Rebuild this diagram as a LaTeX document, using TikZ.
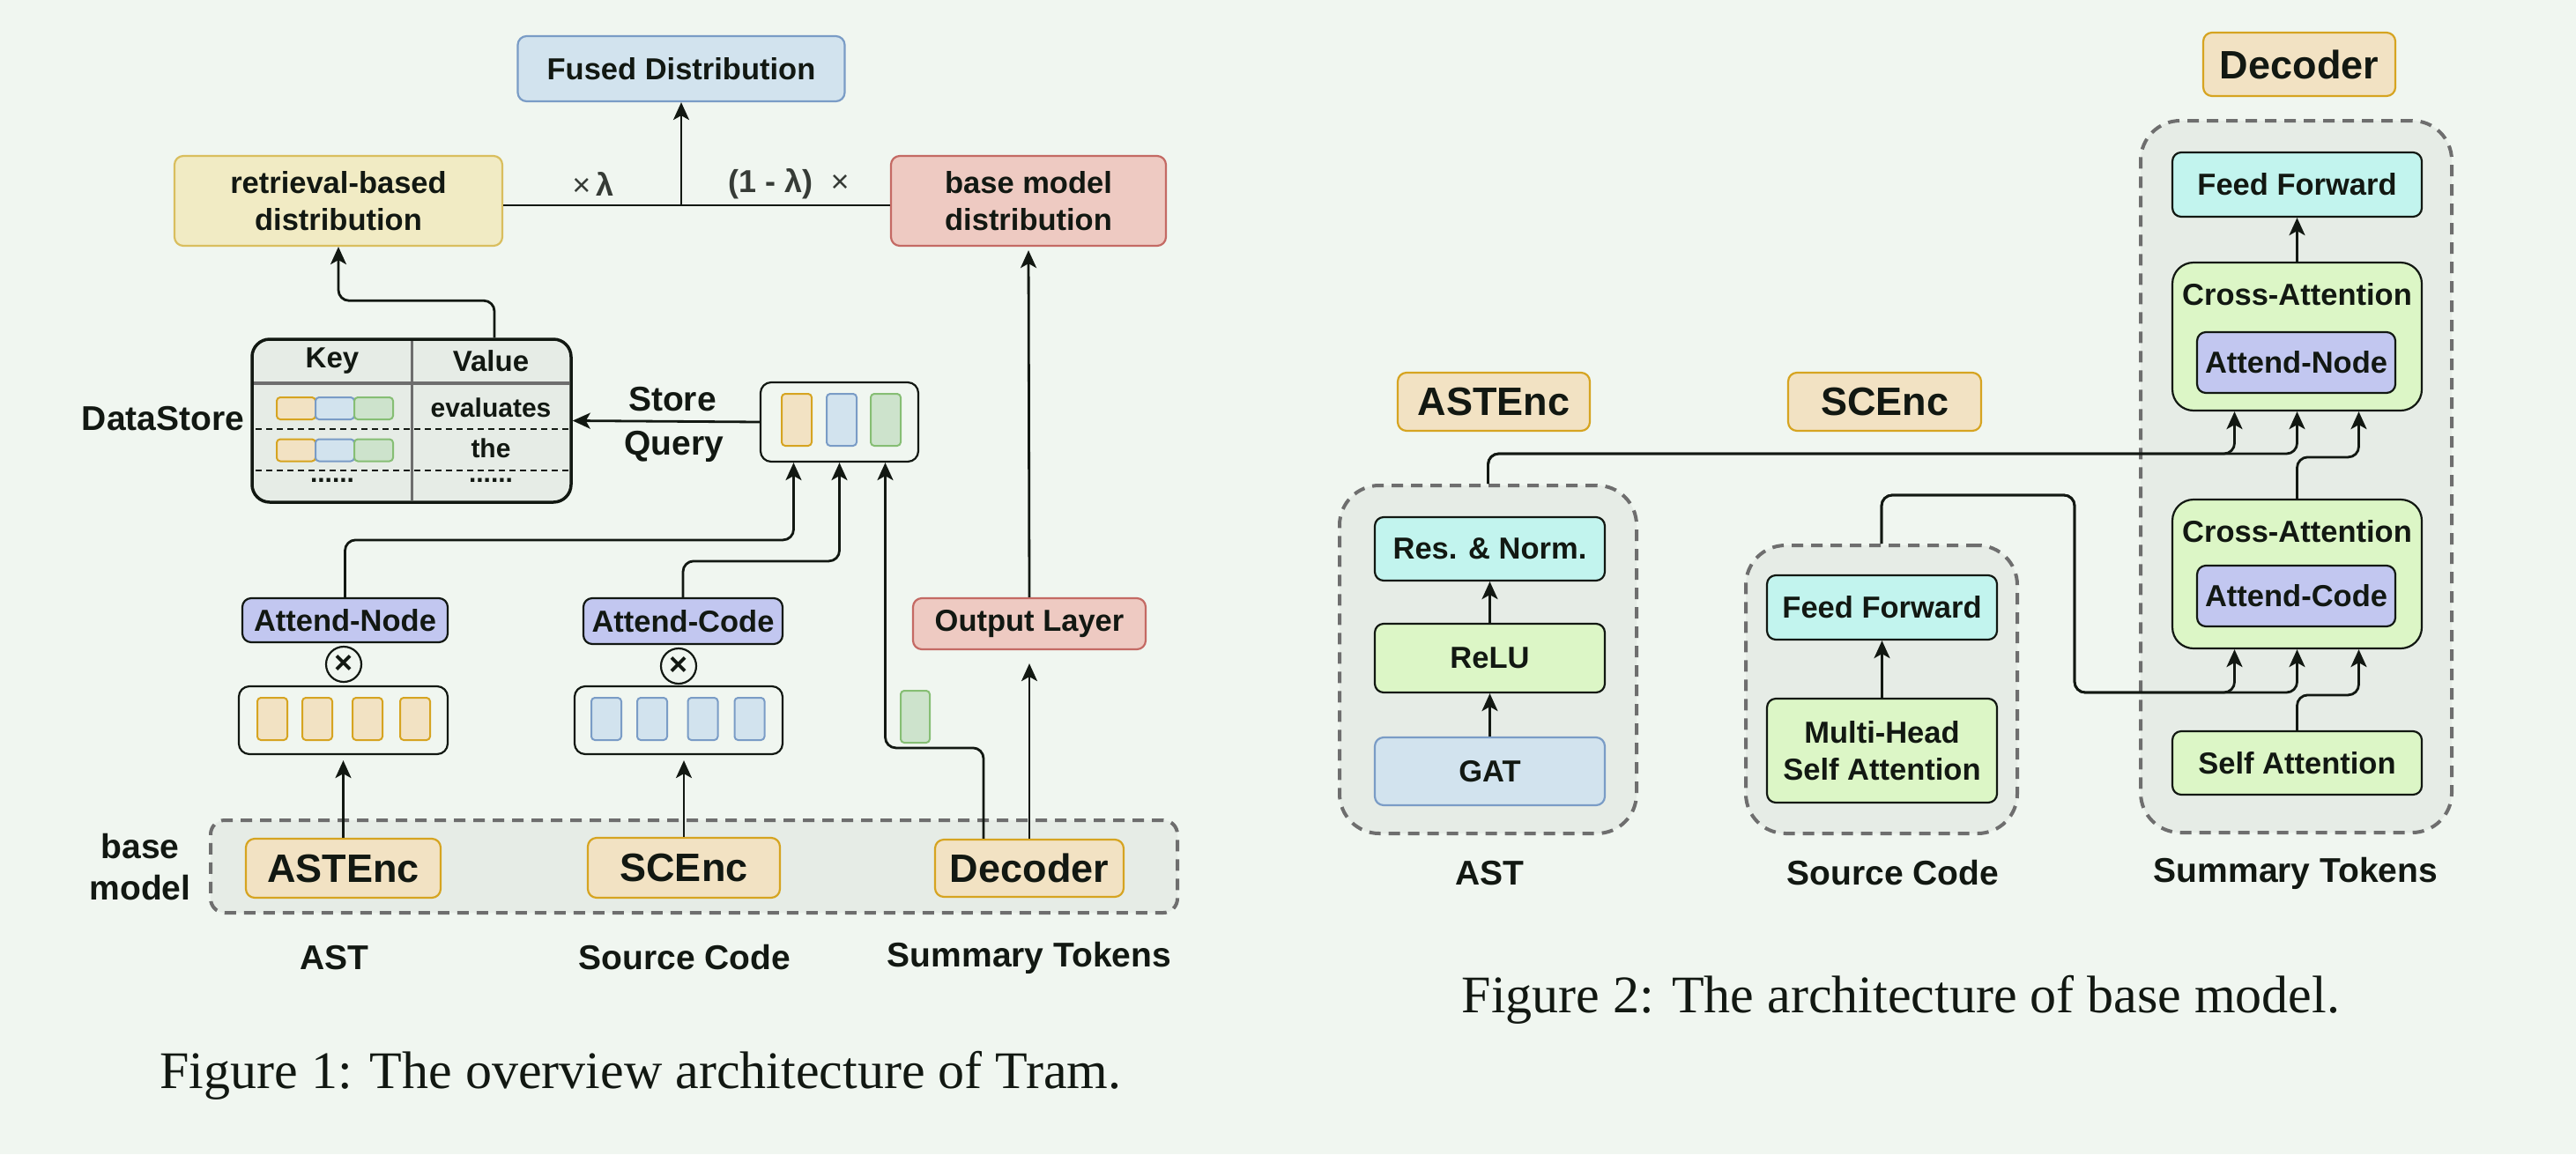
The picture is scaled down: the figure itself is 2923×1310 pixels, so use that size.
\documentclass[tikz,border=0pt]{standalone}
\usepackage{fontspec}
\setmainfont{Liberation Sans}
\newfontfamily\captionfont{Liberation Serif}
\usetikzlibrary{arrows.meta}

\definecolor{bgcol}{HTML}{F0F6F0}
\definecolor{grpfill}{HTML}{E6ECE6}
\definecolor{grpline}{HTML}{6E6E6E}
\definecolor{ink}{HTML}{121812}
\definecolor{bluefill}{HTML}{D2E3EE}
\definecolor{blueline}{HTML}{7A9CC6}
\definecolor{yellowfill}{HTML}{F1EBC4}
\definecolor{yellowline}{HTML}{D9BE5E}
\definecolor{redfill}{HTML}{EECAC2}
\definecolor{redline}{HTML}{C46A64}
\definecolor{orangefill}{HTML}{F2E2C3}
\definecolor{orangeline}{HTML}{D6A421}
\definecolor{purplefill}{HTML}{C2C7F0}
\definecolor{cyanfill}{HTML}{C2F4EE}
\definecolor{limefill}{HTML}{DCF6C6}
\definecolor{greenfill}{HTML}{CDE3CC}
\definecolor{greenline}{HTML}{86BE74}

\newcommand{\boxfont}{\bfseries\fontsize{34.5}{42}\selectfont}
\newcommand{\labelfont}{\bfseries\fontsize{39}{47}\selectfont}
\newcommand{\titlefont}{\bfseries\fontsize{45}{52}\selectfont}
\newcommand{\cellfont}{\bfseries\fontsize{30}{36}\selectfont}

\begin{document}
\begin{tikzpicture}[x=1pt, y=-1pt, line join=round,
    box/.style={draw=ink, line width=2.2pt, rounded corners=10pt, text=ink, font=\boxfont, inner sep=0pt, align=center},
    grpbox/.style={draw=grpline, fill=grpfill, line width=4pt, dash pattern=on 13pt off 9pt, rounded corners=45pt, inner sep=0pt},
    vecbar/.style={line width=2pt, rounded corners=4pt, inner sep=0pt, minimum width=34pt},
    xnode/.style={circle, draw=ink, line width=2.2pt, minimum size=40pt, inner sep=0pt, text=ink, font=\bfseries\fontsize{36}{36}\selectfont},
    lbl/.style={text=ink, font=\labelfont, inner sep=0pt, align=center},
    conn/.style={draw=ink, line width=2.8pt, rounded corners=12pt},
    arr/.style={conn, -{Stealth[length=20pt, width=18pt, inset=5pt]}}]

\fill[bgcol] (0,0) rectangle (2923,1310);

% Figure 1: overview
\node[grpbox, rounded corners=16pt, minimum width=1097pt, minimum height=105pt] (basegrp) at (787.5,983.5) {};

\node[box, fill=bluefill, draw=blueline, minimum width=371pt, minimum height=74pt] (fused) at (773,78) {Fused Distribution};
\node[box, fill=yellowfill, draw=yellowline, minimum width=372pt, minimum height=102pt] (retr) at (384,228) {retrieval-based\\distribution};
\node[box, fill=redfill, draw=redline, minimum width=312pt, minimum height=102pt] (basedist) at (1167,228) {base model\\distribution};
\coordinate (mix) at (773,233);
\node[text=ink!85, font=\bfseries\fontsize{36}{40}\selectfont, inner sep=0pt] (wlam) at (673,209) {{\mdseries ×}\,λ};
\node[text=ink!85, font=\bfseries\fontsize{36}{40}\selectfont, inner sep=0pt] (wrest) at (895,209) {(1 - λ)\ \ {\mdseries ×}};

\node[draw=ink, fill=grpfill, line width=3.5pt, rounded corners=20pt, minimum width=362pt, minimum height=185pt, inner sep=0pt] (store) at (467,477.5) {};
\draw[grpline, line width=4pt] (288,435) -- (646,435);
\draw[grpline, line width=3pt] (467,387) -- (467,568);
\draw[ink, line width=2.5pt, dash pattern=on 7pt off 5pt] (290,487) -- (645,487) (290,534) -- (645,534);
\node[text=ink, font=\bfseries\fontsize{33}{38}\selectfont] (keyhd) at (377,410) {Key};
\node[text=ink, font=\bfseries\fontsize{33}{38}\selectfont] (valhd) at (557,410) {Value};
\node[vecbar, fill=orangefill, draw=orangeline, minimum width=44pt, minimum height=25pt] (k1a) at (336,463.5) {};
\node[vecbar, fill=bluefill, draw=blueline, minimum width=44pt, minimum height=25pt] (k1b) at (380,463.5) {};
\node[vecbar, fill=greenfill, draw=greenline, minimum width=44pt, minimum height=25pt] (k1c) at (424,463.5) {};
\node[vecbar, fill=orangefill, draw=orangeline, minimum width=44pt, minimum height=25pt] (k2a) at (336,511) {};
\node[vecbar, fill=bluefill, draw=blueline, minimum width=44pt, minimum height=25pt] (k2b) at (380,511) {};
\node[vecbar, fill=greenfill, draw=greenline, minimum width=44pt, minimum height=25pt] (k2c) at (424,511) {};
\node[text=ink, font=\cellfont] (v1) at (557,463) {evaluates};
\node[text=ink, font=\cellfont] (v2) at (557,509) {the};
\node[text=ink, font=\cellfont] (k3) at (377,545) {......};
\node[text=ink, font=\cellfont] (v3) at (557,545) {......};
\node[lbl] (dslbl) at (185,475) {DataStore};

\node[lbl] (storelbl) at (763,453) {Store};
\node[lbl] (querylbl) at (765,507) {Query};
\node[box, fill=bgcol, rounded corners=12pt, minimum width=179pt, minimum height=90pt] (qbox) at (952.5,479) {};
\node[vecbar, fill=orangefill, draw=orangeline, minimum height=59pt] (q1) at (904,476.5) {};
\node[vecbar, fill=bluefill, draw=blueline, minimum height=59pt] (q2) at (955,476.5) {};
\node[vecbar, fill=greenfill, draw=greenline, minimum height=59pt] (q3) at (1005,476.5) {};

\node[box, fill=purplefill, minimum width=233pt, minimum height=50pt] (anode) at (391.5,704) {Attend-Node};
\node[xnode] (xast) at (390,754) {×};
\node[box, fill=bgcol, rounded corners=12pt, minimum width=237pt, minimum height=77pt] (astvec) at (389.5,817.5) {};
\node[vecbar, fill=orangefill, draw=orangeline, minimum height=48pt] (av1) at (309,816) {};
\node[vecbar, fill=orangefill, draw=orangeline, minimum height=48pt] (av2) at (360,816) {};
\node[vecbar, fill=orangefill, draw=orangeline, minimum height=48pt] (av3) at (417,816) {};
\node[vecbar, fill=orangefill, draw=orangeline, minimum height=48pt] (av4) at (471,816) {};

\node[box, fill=purplefill, minimum width=226pt, minimum height=52pt] (acode) at (775,705) {Attend-Code};
\node[xnode] (xsc) at (770,756) {×};
\node[box, fill=bgcol, rounded corners=12pt, minimum width=236pt, minimum height=77pt] (scvec) at (770,817.5) {};
\node[vecbar, fill=bluefill, draw=blueline, minimum height=48pt] (sv1) at (688,816) {};
\node[vecbar, fill=bluefill, draw=blueline, minimum height=48pt] (sv2) at (740,816) {};
\node[vecbar, fill=bluefill, draw=blueline, minimum height=48pt] (sv3) at (797.5,816) {};
\node[vecbar, fill=bluefill, draw=blueline, minimum height=48pt] (sv4) at (850.5,816) {};

\node[box, fill=redfill, draw=redline, minimum width=264pt, minimum height=58pt] (outl) at (1168,708) {Output Layer};
\node[vecbar, fill=greenfill, draw=greenline, minimum width=33pt, minimum height=59pt] (gbar) at (1038.5,813.5) {};

\node[box, fill=orangefill, draw=orangeline, font=\titlefont, minimum width=221pt, minimum height=67pt] (astenc) at (389.5,985.5) {ASTEnc};
\node[box, fill=orangefill, draw=orangeline, font=\titlefont, minimum width=218pt, minimum height=68pt] (scenc) at (776,985) {SCEnc};
\node[box, fill=orangefill, draw=orangeline, font=\titlefont, minimum width=214pt, minimum height=65pt] (dec) at (1168,985.5) {Decoder};

\node[lbl] (baselbl) at (159,984) {base\\model};
\node[lbl] (astlbl) at (379,1087) {AST};
\node[lbl] (srclbl) at (777,1087) {Source Code};
\node[lbl] (sumlbl) at (1168,1087) {Summary Tokens};
\node[text=ink, font=\captionfont\fontsize{60}{70}\selectfont] (cap1) at (727,1221) {Figure 1: The overview architecture of Tram.};

\draw[conn] ([yshift=-5pt]retr.east) -- ([yshift=-5pt]basedist.west);
\draw[arr] (mix) -- (fused.south);
\draw[arr] ([xshift=94pt]store.north) -- ++(0,-42) -| (retr.south);
\draw[arr] (qbox.west) -- (store.east);
\draw[arr] (anode.north) -- ++(0,-65) -| ([xshift=-52pt]qbox.south);
\draw[arr] (acode.north) -- ++(0,-41) -| (qbox.south);
\draw[arr] ([xshift=-52pt]dec.north) -- ++(0,-103) -| ([xshift=52pt]qbox.south);
\draw[arr, shorten >=6pt] (astenc.north) -- (astvec.south);
\draw[arr, shorten >=6pt] (scenc.north) -- (scenc.north |- scvec.south);
\draw[arr, shorten >=15pt] (dec.north) -- (outl.south);
\draw[arr, shorten >=4pt] (outl.north) -- (basedist.south);

% Figure 2: base model
\node[grpbox, minimum width=337pt, minimum height=395pt] (astgrp) at (1688.5,748.5) {};
\node[grpbox, minimum width=308pt, minimum height=327pt] (scgrp) at (2135,782.5) {};
\node[grpbox, minimum width=353pt, minimum height=808pt] (decgrp) at (2605.5,541) {};

\node[box, fill=orangefill, draw=orangeline, font=\titlefont, minimum width=218pt, minimum height=72pt] (dectitle) at (2609,73) {Decoder};
\node[box, fill=orangefill, draw=orangeline, font=\titlefont, minimum width=218pt, minimum height=66pt] (asttitle) at (1695,456) {ASTEnc};
\node[box, fill=orangefill, draw=orangeline, font=\titlefont, minimum width=219pt, minimum height=66pt] (sctitle) at (2138.5,456) {SCEnc};

\node[box, fill=cyanfill, minimum width=261pt, minimum height=72pt] (rn) at (1690.5,623) {Res. \& Norm.};
\node[box, fill=limefill, minimum width=261pt, minimum height=78pt] (relu) at (1690.5,747) {ReLU};
\node[box, fill=bluefill, draw=blueline, minimum width=261pt, minimum height=77pt] (gat) at (1690.5,875.5) {GAT};

\node[box, fill=cyanfill, minimum width=261pt, minimum height=73pt] (ff2) at (2135.5,689.5) {Feed Forward};
\node[box, fill=limefill, minimum width=261pt, minimum height=118pt] (mh) at (2135.5,852) {Multi-Head\\Self Attention};

\node[box, fill=cyanfill, minimum width=283pt, minimum height=73pt] (ff1) at (2606.5,209.5) {Feed Forward};
\node[box, fill=limefill, rounded corners=24pt, minimum width=283pt, minimum height=168pt] (ca1) at (2606.5,382) {};
\node[text=ink, font=\boxfont] (ca1t) at (2606.5,334) {Cross-Attention};
\node[box, fill=purplefill, minimum width=225pt, minimum height=69pt] (an1) at (2605.5,411.5) {Attend-Node};
\node[box, fill=limefill, rounded corners=24pt, minimum width=283pt, minimum height=169pt] (ca2) at (2606.5,651.5) {};
\node[text=ink, font=\boxfont] (ca2t) at (2606.5,603) {Cross-Attention};
\node[box, fill=purplefill, minimum width=225pt, minimum height=69pt] (ac2) at (2605.5,676.5) {Attend-Code};
\node[box, fill=limefill, minimum width=283pt, minimum height=72pt] (sa) at (2606.5,866) {Self Attention};

\node[lbl] (astlbl2) at (1690,991) {AST};
\node[lbl] (srclbl2) at (2148,991) {Source Code};
\node[lbl] (sumlbl2) at (2605,991) {Summary Tokens};
\node[text=ink, font=\captionfont\fontsize{60}{70}\selectfont] (cap2) at (2157,1135) {Figure 2: The architecture of base model.};

\draw[arr] (gat.north) -- (relu.south);
\draw[arr] (relu.north) -- (rn.south);
\draw[arr] (mh.north) -- (ff2.south);
\draw[arr] (ca1.north) -- (ff1.south);
\draw[arr] (astgrp.north) -- ++(0,-34) -| ([xshift=-71pt]ca1.south);
\draw[arr] (astgrp.north) -- ++(0,-34) -| (ca1.south);
\draw[arr] (ca2.north) -- ++(0,-47) -| ([xshift=70pt]ca1.south);
\draw[arr] (scgrp.north) -- ++(0,-55) -- ++(219,0) -- ++(0,224) -| ([xshift=-71pt]ca2.south);
\draw[arr] (scgrp.north) -- ++(0,-55) -- ++(219,0) -- ++(0,224) -| (ca2.south);
\draw[arr] (sa.north) -- ++(0,-40) -| ([xshift=70pt]ca2.south);
\end{tikzpicture}
\end{document}
